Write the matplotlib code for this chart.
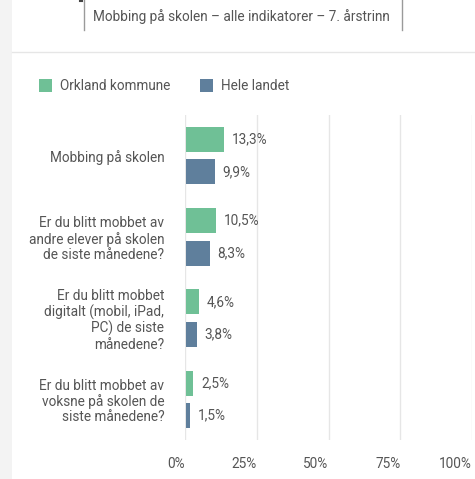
import matplotlib

matplotlib.use('Agg')

import matplotlib.pyplot as plt
import numpy as np

plt.rcParams['font.family'] = ['Roboto', 'DejaVu Sans']

categories = [
    'Mobbing på skolen',
    'Er du blitt mobbet av\nandre elever på skolen\nde siste månedene?',
    'Er du blitt mobbet\ndigitalt (mobil, iPad,\nPC) de siste\nmånedene?',
    'Er du blitt mobbet av\nvoksne på skolen de\nsiste månedene?',
]
orkland = [13.3, 10.5, 4.6, 2.5]
landet = [9.9, 8.3, 3.8, 1.5]
series_names = ['Orkland kommune', 'Hele landet']
xticks = [0, 25, 50, 75, 100]
title = 'Mobbing på skolen – alle indikatorer – 7. årstrinn'

green = '#6fc096'
blue = '#5f7f9c'
text_col = '#555555'

W, H = 475, 479
fig = plt.figure(figsize=(W / 100, H / 100), dpi=100)
fig.patch.set_facecolor('white')

# grey strip on the left and separator line
fig.patches.append(plt.Rectangle((0, 0), 12 / W, 1, transform=fig.transFigure,
                                 facecolor='#f3f3f3', edgecolor='none'))
fig.add_artist(plt.Line2D([12 / W, 1], [1 - 52 / H, 1 - 52 / H],
                          transform=fig.transFigure, color='#e6e6e6', lw=1))

# title box
for xp in (84, 402):
    fig.add_artist(plt.Line2D([xp / W, xp / W], [1, 1 - 30 / H],
                              transform=fig.transFigure, color='#9a9a9a', lw=1))
fig.add_artist(plt.Line2D([80 / W, 82 / W], [1 - 1 / H, 1 - 1 / H],
                          transform=fig.transFigure, color='#444444', lw=1.5))
fig.text(93 / W, 1 - 17 / H, title, fontsize=9.8, color=text_col,
         ha='left', va='center')

# legend
for xs, name, col in ((39, series_names[0], green), (200, series_names[1], blue)):
    fig.patches.append(plt.Rectangle((xs / W, 1 - 92 / H), 13 / W, 13 / H,
                                     transform=fig.transFigure,
                                     facecolor=col, edgecolor='none'))
    fig.text((xs + 21) / W, 1 - 86 / H, name, fontsize=9.8, color=text_col,
             ha='left', va='center')

ax = fig.add_axes([185 / W, 1 - 440 / H, (472 - 185) / W, (440 - 115) / H])
y = np.arange(len(categories))
h = 0.31
off = 0.2
ax.barh(y - off, orkland, height=h, color=green, left=0.4)
ax.barh(y + off, landet, height=h, color=blue, left=0.4)

for yi, v in zip(y - off, orkland):
    ax.text(v + 3.1, yi, f'{v:.1f}%'.replace('.', ','), va='center',
            ha='left', fontsize=9.8, color=text_col)
for yi, v in zip(y + off, landet):
    ax.text(v + 3.1, yi, f'{v:.1f}%'.replace('.', ','), va='center',
            ha='left', fontsize=9.8, color=text_col)

ax.set_xlim(0, 100)
ax.set_ylim(3.5, -0.5)
ax.set_xticks(xticks)
ax.set_xticklabels([f'{t}%' for t in xticks], ha='right')
ax.set_yticks(y)
ax.set_yticklabels(categories, fontsize=9.8, color=text_col, linespacing=1.12)
ax.tick_params(axis='x', length=0, pad=12, labelsize=9.8, labelcolor=text_col)
ax.tick_params(axis='y', length=0, pad=15)
ax.grid(axis='x', color='#e6e6e6', lw=1)
ax.set_axisbelow(True)
for s in ax.spines.values():
    s.set_visible(False)
ax.axvline(0, color='#d6d6d6', lw=1.2, zorder=0.5)

fig.savefig('out.png', dpi=100)
